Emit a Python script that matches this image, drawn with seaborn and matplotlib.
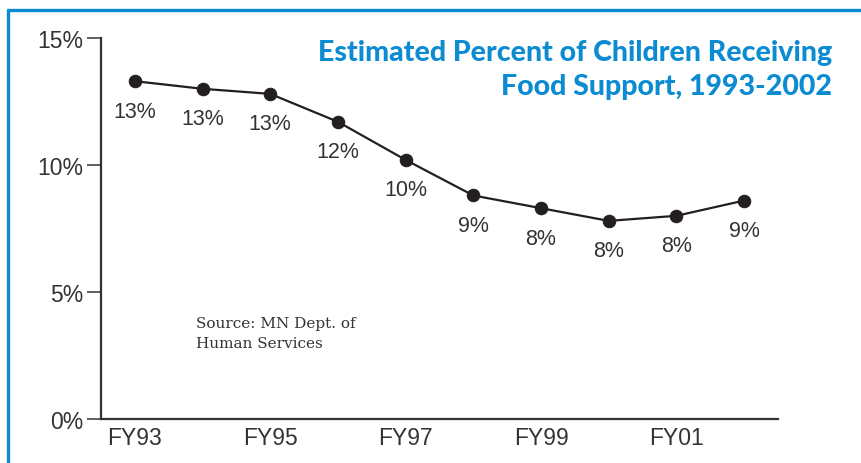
import matplotlib
matplotlib.use("Agg")
import matplotlib.pyplot as plt
from matplotlib.lines import Line2D
import pandas as pd
import seaborn as sns

# Share of children receiving food support, by fiscal year
years = ["FY93", "FY94", "FY95", "FY96", "FY97", "FY98", "FY99", "FY00", "FY01", "FY02"]
percent = [13.3, 13.0, 12.8, 11.7, 10.2, 8.8, 8.3, 7.8, 8.0, 8.6]
shown_ticks = ["FY93", "FY95", "FY97", "FY99", "FY01"]
y_ticks = [0, 5, 10, 15]

title_lines = "Estimated Percent of Children Receiving\nFood Support, 1993-2002"
source_note = "Source: MN Dept. of\nHuman Services"

df = pd.DataFrame({"idx": range(len(years)), "year": years, "pct": percent})

sns.set_theme(style="white")
plt.rcParams["font.family"] = ["Liberation Sans", "DejaVu Sans"]

ink = "#231f20"
gray = "#333333"
blue = "#0b8bd1"

fig = plt.figure(figsize=(8.61, 4.64), dpi=100)
ax = fig.add_axes([101 / 861, 1 - 420 / 464, (778 - 101) / 861, (420 - 39) / 464])

sns.lineplot(data=df, x="idx", y="pct", ax=ax, color=ink, linewidth=1.6,
             marker="o", markersize=9, markeredgecolor=ink, markerfacecolor=ink)

for i, v in zip(df["idx"], df["pct"]):
    ax.annotate(f"{round(v)}%", (i, v), xytext=(0, -21.5), textcoords="offset points",
                ha="center", va="center", fontsize=15.5, color=gray)

ax.set_xlim(-0.5, len(years) - 0.5)
ax.set_ylim(0, 15)
ax.set_xticks([years.index(t) for t in shown_ticks])
ax.set_xticklabels(shown_ticks)
ax.set_yticks(y_ticks)
ax.set_yticklabels([f"{t}%" for t in y_ticks])
ax.set_xlabel("")
ax.set_ylabel("")

for s in ["top", "right"]:
    ax.spines[s].set_visible(False)
for s in ["left", "bottom"]:
    ax.spines[s].set_color(gray)
    ax.spines[s].set_linewidth(1.6)

ax.tick_params(axis="y", which="major", left=True, length=10, width=1.1, color=gray,
               pad=3, labelsize=16.5, labelcolor=gray, direction="out")
ax.tick_params(axis="x", which="major", bottom=False, length=0, pad=5,
               labelsize=16.5, labelcolor=gray)

fig.text(832 / 861, 1 - 70 / 464, title_lines, ha="right", va="center",
         fontsize=20.5, fontweight="black", color=blue, linespacing=1.42,
         family=["Lato", "DejaVu Sans"])
fig.text(196 / 861, 1 - 334 / 464, source_note, ha="left", va="center",
         fontsize=11, color=gray, linespacing=1.55, family=["DejaVu Serif"])

# frame lines along the top and left edges
fig.add_artist(Line2D([8 / 861, 1.0], [1 - 11 / 464, 1 - 11 / 464],
                      transform=fig.transFigure, color=blue, linewidth=2.4))
fig.add_artist(Line2D([8 / 861, 8 / 861], [1 - 11 / 464, 0.0],
                      transform=fig.transFigure, color=blue, linewidth=2.4))

fig.savefig("out.png", dpi=100)
